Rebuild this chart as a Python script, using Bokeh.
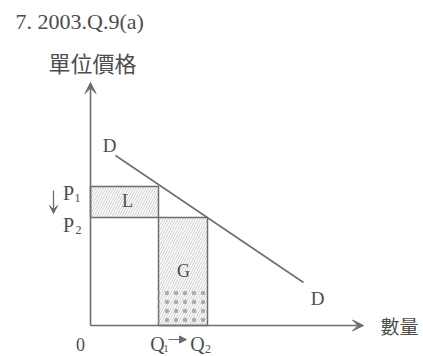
from bokeh.plotting import figure
from bokeh.models import Range1d, Label, Arrow, VeeHead, NormalHead
from bokeh.embed import file_html
from bokeh.resources import INLINE

# ---- data (economic diagram units) ----
title_text = "7. 2003.Q.9(a)"
y_title = "單位價格"
x_title = "數量"
Q = [68, 117]          # Q1, Q2
P = [139, 108]         # P1, P2
demand_q = [25, 213]   # demand curve D end points (quantity)
demand_p = [170, 43]   # demand curve D end points (price)
x_axis_max = 273
y_axis_max = 243

LINE = "#6e6e6e"
TXT = "#4d4d4d"
SERIF = "Liberation Serif"
CJK = "Noto Sans CJK TC"

p = figure(width=423, height=356, output_backend="svg", toolbar_location=None,
           x_range=Range1d(-90, 333), y_range=Range1d(-31, 325),
           min_border=0, outline_line_color=None)
p.axis.visible = False
p.grid.visible = False

# area L (P2..P1, 0..Q1)
p.quad(left=[0], right=[Q[0]], bottom=[P[1]], top=[P[0]],
       fill_color="white", hatch_pattern="/", hatch_color="#cccccc",
       hatch_scale=5, hatch_weight=1, line_color=LINE, line_width=1.5)
# area G (Q1..Q2, 0..P2)
p.quad(left=[Q[0]], right=[Q[1]], bottom=[0], top=[P[1]],
       fill_color="white", hatch_pattern="/", hatch_color="#cccccc",
       hatch_scale=5, hatch_weight=1, line_color=LINE, line_width=1.5)
# stippled lower part of G
p.quad(left=[Q[0]], right=[Q[1]], bottom=[0], top=[P[1] * 0.32],
       fill_alpha=0, hatch_pattern=".", hatch_color="#acacac",
       hatch_scale=9, hatch_weight=1, line_alpha=0)

# demand curve
p.line(demand_q, demand_p, line_color=LINE, line_width=1.6)

# axes with arrow heads
p.add_layout(Arrow(end=VeeHead(size=11, fill_color=LINE, line_color=LINE),
                   x_start=0, y_start=0, x_end=0, y_end=y_axis_max,
                   line_color=LINE, line_width=1.6))
p.add_layout(Arrow(end=VeeHead(size=11, fill_color=LINE, line_color=LINE),
                   x_start=0, y_start=0, x_end=x_axis_max, y_end=0,
                   line_color=LINE, line_width=1.6))

# Q1 -> Q2 small arrow
p.add_layout(Arrow(end=NormalHead(size=7, fill_color=LINE, line_color=LINE),
                   x_start=Q[0] + 10, y_start=-14, x_end=Q[0] + 28, y_end=-14,
                   line_color=LINE, line_width=1.2))
# price falling arrow
p.add_layout(Arrow(end=VeeHead(size=8, fill_color=LINE, line_color=LINE),
                   x_start=-37, y_start=P[0] - 4, x_end=-37, y_end=P[1] + 4,
                   line_color=LINE, line_width=1.3))


def lab(x, y, t, size, font=SERIF, align="center", base="middle"):
    p.add_layout(Label(x=x, y=y, text=t, text_font=font,
                       text_font_size=f"{size}px", text_color=TXT,
                       text_align=align, text_baseline=base))


lab(-75, 304, title_text, 22, align="left")
lab(2, 264, y_title, 22, font=CJK)
lab(290, 0, x_title, 19, font=CJK, align="left")
lab(-10, -19, "0", 18)

# Q labels
lab(Q[0] - 1, -18, "Q", 20)
lab(Q[0] + 7.5, -23, "1", 11)
lab(Q[1] - 10, -18, "Q", 20)
lab(Q[1] + 0.5, -23, "2", 12)

# P labels
lab(-22, P[0] - 6, "P", 20)
lab(-13, P[0] - 11, "1", 12)
lab(-22, P[1] - 7, "P", 20)
lab(-12, P[1] - 12, "2", 12)

# curve & area labels
lab(19, 180, "D", 19)
lab(227, 27, "D", 19)
lab(37, 125, "L", 18)
lab(93, 55, "G", 18)

open("out.html", "w").write(file_html(p, INLINE))
